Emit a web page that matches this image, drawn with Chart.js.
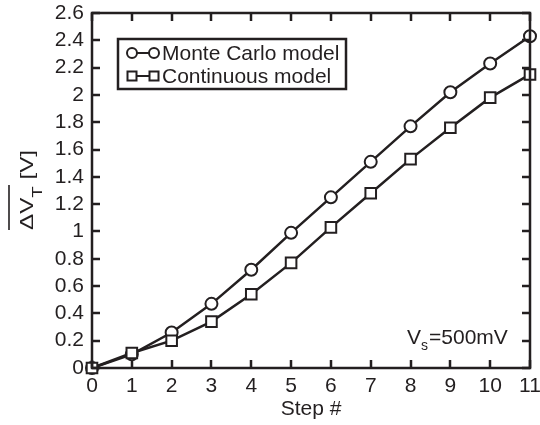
<!DOCTYPE html>
<html>
<head>
<meta charset="utf-8">
<script src="https://cdn.jsdelivr.net/npm/chart.js@4"></script>
<style>
html,body{margin:0;padding:0;background:#fff;}
#wrap{width:540px;height:425px;}
</style>
</head>
<body>
<div id="wrap"><canvas id="c" width="540" height="425"></canvas></div>
<script>
const steps = [0,1,2,3,4,5,6,7,8,9,10,11];
const monteCarlo = [0,0.10,0.26,0.47,0.72,0.99,1.25,1.51,1.77,2.02,2.23,2.43];
const continuous = [0,0.11,0.20,0.34,0.54,0.77,1.03,1.28,1.53,1.76,1.98,2.15];
const seriesNames = ['Monte Carlo model','Continuous model'];
const yTicks = [0,0.2,0.4,0.6,0.8,1,1.2,1.4,1.6,1.8,2,2.2,2.4,2.6];
const xTitle = 'Step #';
const annotation = {main:'V', sub:'s', rest:'=500mV'};

const INK = '#231f20';
const FONT = 'Liberation Sans, Arial, sans-serif';

const decor = {
  id:'decor',
  afterDatasetsDraw(chart){
    const ctx = chart.ctx, a = chart.chartArea;
    const xs = chart.scales.x, ys = chart.scales.y;
    ctx.save();
    ctx.strokeStyle = INK; ctx.lineWidth = 2.5;
    ctx.strokeRect(a.left, a.top, a.right-a.left, a.bottom-a.top);
    const tl = 8;
    ctx.beginPath();
    steps.forEach(v=>{
      const px = Math.round(xs.getPixelForValue(v));
      ctx.moveTo(px, a.bottom); ctx.lineTo(px, a.bottom - tl);
      ctx.moveTo(px, a.top); ctx.lineTo(px, a.top + tl);
    });
    yTicks.forEach(v=>{
      const py = Math.round(ys.getPixelForValue(v));
      ctx.moveTo(a.left, py); ctx.lineTo(a.left + tl, py);
      ctx.moveTo(a.right, py); ctx.lineTo(a.right - tl, py);
    });
    ctx.stroke();
    ctx.restore();
  },
  afterDraw(chart){
    const ctx = chart.ctx;
    ctx.save();
    // legend
    const lx = 118, ly = 39, lw = 228, lh = 50;
    ctx.fillStyle = '#fff';
    ctx.fillRect(lx, ly, lw, lh);
    ctx.strokeStyle = INK;
    ctx.lineWidth = 2.5;
    ctx.strokeRect(lx, ly, lw, lh);
    const rows = [{y:53, style:'circle'},{y:76, style:'rect'}];
    ctx.textBaseline = 'middle';
    rows.forEach((r,i)=>{
      ctx.strokeStyle = INK; ctx.lineWidth = 2;
      ctx.beginPath(); ctx.moveTo(132, r.y); ctx.lineTo(154, r.y); ctx.stroke();
      [132,154].forEach(cx=>{
        ctx.beginPath();
        if (r.style==='circle') ctx.arc(cx, r.y, 5, 0, Math.PI*2);
        else ctx.rect(cx-4.5, r.y-4.5, 9, 9);
        ctx.fillStyle='#fff'; ctx.fill(); ctx.stroke();
      });
      ctx.fillStyle = INK;
      ctx.textAlign = 'left';
      ctx.font = '21px ' + FONT;
      ctx.fillText(seriesNames[i], 162, r.y+1);
    });

    // annotation V_s=500mV
    ctx.fillStyle = INK;
    ctx.textBaseline = 'alphabetic';
    ctx.textAlign = 'left';
    let ax = 407, ay = 344;
    ctx.font = '21px ' + FONT;
    ctx.fillText(annotation.main, ax, ay);
    ax += ctx.measureText(annotation.main).width;
    ctx.font = '14px ' + FONT;
    ctx.fillText(annotation.sub, ax, ay + 6);
    ax += ctx.measureText(annotation.sub).width + 1;
    ctx.font = '21px ' + FONT;
    ctx.fillText(annotation.rest, ax, ay);

    // y title (ΔV_T [V] with overline on ΔV_T)
    ctx.save();
    ctx.translate(33, 190);
    ctx.rotate(-Math.PI/2);
    const p1 = '\u0394V', p2 = 'T', p3 = ' [V]';
    ctx.font = '18px ' + FONT;
    const w1 = ctx.measureText(p1).width;
    const w3 = ctx.measureText(p3).width;
    ctx.font = '14px ' + FONT;
    const w2 = ctx.measureText(p2).width;
    const total = w1 + w2 + w3;
    const sx = 80 / total;
    ctx.scale(sx, 1);
    let tx = -total/2;
    ctx.fillStyle = INK;
    ctx.font = '18px ' + FONT;
    ctx.fillText(p1, tx, 0);
    ctx.font = '14px ' + FONT;
    ctx.fillText(p2, tx + w1, 9);
    ctx.font = '18px ' + FONT;
    ctx.fillText(p3, tx + w1 + w2, 0);
    ctx.strokeStyle = INK; ctx.lineWidth = 1.6;
    ctx.beginPath();
    ctx.moveTo(tx, -24); ctx.lineTo(tx + w1 + w2 + 1, -24);
    ctx.stroke();
    ctx.restore();

    ctx.restore();
  }
};

new Chart(document.getElementById('c'), {
  type:'line',
  data:{
    labels: steps,
    datasets:[
      {label:seriesNames[1], data: steps.map((s,i)=>({x:s,y:continuous[i]})),
       borderColor:INK, borderWidth:2.5, pointStyle:'rect', pointRadius:7.5,
       pointBackgroundColor:'#fff', pointBorderColor:INK, pointBorderWidth:2, tension:0, clip:false},
      {label:seriesNames[0], data: steps.map((s,i)=>({x:s,y:monteCarlo[i]})),
       borderColor:INK, borderWidth:2.5, pointStyle:'circle', pointRadius:6,
       pointBackgroundColor:'#fff', pointBorderColor:INK, pointBorderWidth:2, tension:0, clip:false}
    ]
  },
  options:{
    responsive:false, animation:false,
    layout:{padding:{top:13,right:10,left:0,bottom:0}},
    plugins:{legend:{display:false}, tooltip:{enabled:false}},
    scales:{
      x:{type:'linear', min:0, max:11,
         afterBuildTicks(s){ s.ticks = steps.map(v=>({value:v})); },
         afterFit(s){ s.height = 57; s.paddingLeft = 0; s.paddingRight = 0; },
         grid:{display:false, drawTicks:false}, border:{display:false},
         ticks:{color:INK, font:{family:FONT, size:21}, padding:6, maxRotation:0, autoSkip:false,
                callback:v=>String(v)},
         title:{display:true, text:xTitle, color:INK, font:{family:FONT, size:21}, padding:{top:0,bottom:3}}
      },
      y:{type:'linear', min:0, max:2.6,
         afterBuildTicks(s){ s.ticks = yTicks.map(v=>({value:v})); },
         afterFit(s){ s.width = 92; s.paddingTop = 0; s.paddingBottom = 0; },
         grid:{display:false, drawTicks:false}, border:{display:false},
         ticks:{color:INK, font:{family:FONT, size:21}, padding:8, autoSkip:false,
                callback:v=>String(Number(v.toFixed(1)))}
      }
    }
  },
  plugins:[decor]
});
</script>
</body>
</html>
